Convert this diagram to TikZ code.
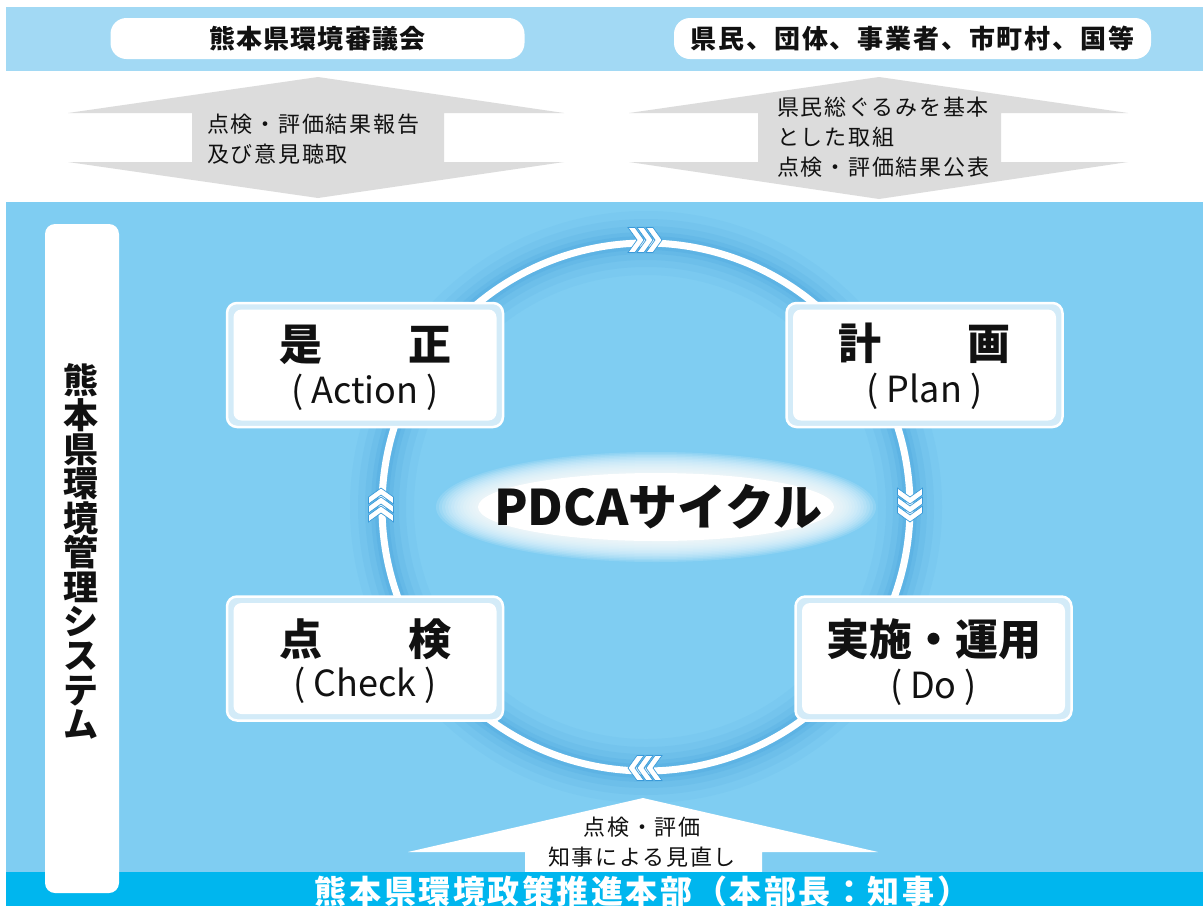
\documentclass[tikz,border=0pt]{standalone}
\usepackage{fontspec}
\setmainfont{Noto Sans CJK JP}
\newfontfamily\jp{Noto Sans CJK JP}
\definecolor{topband}{HTML}{A2D9F4}
\definecolor{mainblue}{HTML}{7FCDF2}
\definecolor{botband}{HTML}{00B6EE}
\definecolor{arrowgray}{HTML}{DCDCDC}
\definecolor{glowblue}{HTML}{3A9AD9}
\definecolor{boxborder}{HTML}{D3EBF8}
\definecolor{textblack}{HTML}{111111}
\tikzset{
  pill/.style={fill=white, rounded corners=16pt, inner sep=0pt, text=textblack},
  graytxt/.style={font={\jp\addfontfeatures{LetterSpace=8}\fontsize{22}{30}\selectfont}, align=left, inner sep=0pt, text=textblack},
  boxouter/.style={fill=boxborder, draw=white, line width=2.5pt, rounded corners=10pt, minimum width=276pt, minimum height=124pt, inner sep=0pt},
  boxinner/.style={fill=white, rounded corners=8pt, minimum width=263pt, minimum height=111pt, inner sep=0pt},
  jtitle/.style={font={\jp\bfseries\fontsize{43}{43}\selectfont}, inner sep=0pt, text=textblack},
  ltitle/.style={font={\jp\fontsize{36}{36}\selectfont}, inner sep=0pt, text=textblack},
  chevpart/.style={fill=white, draw=glowblue, line width=0.7pt, line join=miter},
  pics/chevrons/.style={code={
    \foreach \d in {-9,0,9}{
      \filldraw[chevpart] (\d-8,-12.5) -- (\d-1,-12.5) -- (\d+8,0) -- (\d-1,12.5) -- (\d-8,12.5) -- (\d+1,0) -- cycle;
    }
  }},
}
\begin{document}
\begin{tikzpicture}[x=1pt,y=-1pt]
\useasboundingbox (0,0) rectangle (1203,906);
\fill[white] (0,0) rectangle (1203,906);
% bands
\fill[topband] (6,7) rectangle (1203,71);
\fill[mainblue] (6,202) rectangle (1203,872);

% top pills
\node[pill, minimum width=414pt, minimum height=41pt,
  font={\jp\bfseries\addfontfeatures{LetterSpace=4}\fontsize{26}{30}\selectfont}] (council) at (317.5,38.5) {熊本県環境審議会};
\node[pill, minimum width=477pt, minimum height=41pt,
  font={\jp\bfseries\addfontfeatures{LetterSpace=7}\fontsize{26}{30}\selectfont}] (citizens) at (912.5,38.5) {県民、団体、事業者、市町村、国等};

% gray double arrows
\fill[arrowgray] (318,77) -- (564,113) -- (444,113) -- (444,162) -- (564,162) -- (318,198)
  -- (68,162) -- (192,162) -- (192,113) -- (68,113) -- cycle;
\fill[arrowgray] (879,77) -- (1128,113) -- (1001,113) -- (1001,162) -- (1128,162) -- (879,199)
  -- (629,162) -- (758,162) -- (758,113) -- (629,113) -- cycle;
\node[graytxt, anchor=west] (reportL) at (207,139) {点検・評価結果報告\\及び意見聴取};
\node[graytxt, anchor=west] (reportR) at (777,137) {県民総ぐるみを基本\\とした取組\\点検・評価結果公表};

% cycle glow and ring
\foreach \w/\o in {64/0.07, 48/0.09, 34/0.11, 22/0.14, 14/0.18}{
  \draw[glowblue, line width=\w pt, opacity=\o] (646,507) circle (264);
}
\draw[white, line width=7pt] (646,507) circle (264);
\coordinate (ringtop) at (645,240);
\coordinate (ringright) at (910,505);
\coordinate (ringbottom) at (645,768);
\coordinate (ringleft) at (381,505);
\pic at (ringtop) {chevrons};
\pic[rotate=-90] at (ringright) {chevrons};
\pic[rotate=180] at (ringbottom) {chevrons};
\pic[rotate=90] at (ringleft) {chevrons};

% center glow
\foreach \i in {1,...,14}{
  \fill[white, opacity=0.13] (656,507) ellipse ({178+3*\i} and {34+1.5*\i});
}
\fill[white] (656,507) ellipse (178 and 34);
\node[font={\jp\bfseries\fontsize{49}{49}\selectfont}, inner sep=0pt, text=textblack] (pdca) at (658,507) {PDCAサイクル};

% PDCA boxes
\node[boxouter] (act) at (365,365) {};
\node[boxinner] at (act.center) {};
\node[jtitle] (actJ) at (365,345) {是　　正};
\node[ltitle] (actL) at (365,392) {(\hspace{8pt}Action\hspace{8pt})};

\node[boxouter] (plan) at (924.5,365) {};
\node[boxinner] at (plan.center) {};
\node[jtitle] (planJ) at (924.5,343) {計　　画};
\node[ltitle] (planL) at (924.5,391) {(\hspace{8pt}Plan\hspace{8pt})};

\node[boxouter] (chk) at (365,658.5) {};
\node[boxinner] at (chk.center) {};
\node[jtitle] (chkJ) at (365,639) {点　　検};
\node[ltitle] (chkL) at (365,685) {(\hspace{8pt}Check\hspace{8pt})};

\node[boxouter] (do) at (933.5,658.5) {};
\node[boxinner] at (do.center) {};
\node[jtitle] (doJ) at (933.5,639) {実施・運用};
\node[ltitle] (doL) at (933.5,687) {(\hspace{8pt}Do\hspace{8pt})};

% bottom up arrow
\fill[white] (643,798) -- (878,852) -- (762,852) -- (762,872) -- (525,872) -- (525,852) -- (408,852) -- cycle;
\node[graytxt, align=center] (review) at (642,842) {点検・評価\\知事による見直し};

% bottom band
\fill[botband] (6,872) rectangle (1203,906);
\node[font={\jp\bfseries\addfontfeatures{LetterSpace=8}\fontsize{32}{32}\selectfont}, text=white, inner sep=0pt] (hq) at (642,891) {熊本県環境政策推進本部（本部長：知事）};

% left vertical box
\node[fill=white, rounded corners=10pt, minimum width=74pt, minimum height=669pt, inner sep=0pt] (ems) at (82,558.5) {};
\node[font={\jp\bfseries\fontsize{35}{34.4}\selectfont}, align=center, inner sep=0pt, text=textblack] (emsT) at (81,551.5)
  {熊\\本\\県\\環\\境\\管\\理\\シ\\ス\\テ\\ム};
\end{tikzpicture}
\end{document}
